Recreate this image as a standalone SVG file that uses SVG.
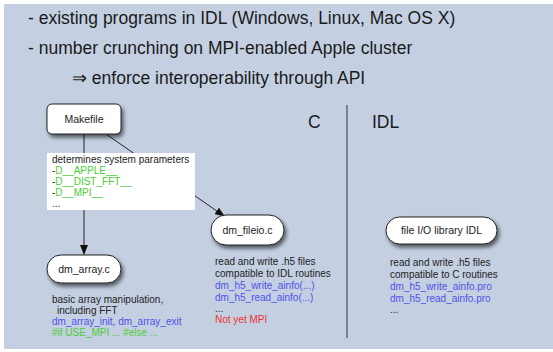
<svg xmlns="http://www.w3.org/2000/svg" width="553" height="352" viewBox="0 0 553 352">
<defs>
<filter id="sh" x="-30%" y="-30%" width="160%" height="180%">
<feGaussianBlur in="SourceAlpha" stdDeviation="2"/>
<feOffset dx="1.5" dy="2.5" result="b"/>
<feComponentTransfer><feFuncA type="linear" slope="0.6"/></feComponentTransfer>
<feMerge><feMergeNode/><feMergeNode in="SourceGraphic"/></feMerge>
</filter>
<marker id="ah" markerWidth="10" markerHeight="8" refX="9" refY="4" orient="auto" markerUnits="userSpaceOnUse">
<path d="M0,0 L10,4 L0,8 z" fill="#111"/>
</marker>
<style>
text{font-family:"Liberation Sans",Arial,sans-serif;fill:#222}
.h{font-size:17.5px;fill:#1a1a1a}
.n{font-size:10.5px;text-anchor:middle}
.s{font-size:10px}
.b{fill:#5050e8}
.g{fill:#4ccc30}
.r{fill:#e83030}
.node{fill:#fff;stroke:#222;stroke-width:1}
.conn{stroke:#222;stroke-width:1;fill:none}
</style>
</defs>
<rect x="0" y="0" width="553" height="352" fill="#fff"/>
<rect x="4" y="4" width="549" height="345" fill="#c4d0e2"/>
<g id="header">
<text class="h" x="28" y="24">- existing programs in IDL (Windows, Linux, Mac OS X)</text>
<text class="h" x="28" y="54">- number crunching on MPI-enabled Apple cluster</text>
<text class="h" x="72" y="84">⇒ enforce interoperability through API</text>
<text class="h" x="308" y="128">C</text>
<text class="h" x="372" y="128">IDL</text>
<line x1="347" y1="105" x2="347" y2="338" stroke="#333" stroke-width="1"/>
</g>
<g id="connectors">
<line class="conn" x1="84" y1="134" x2="84" y2="254" marker-end="url(#ah)"/>
<line class="conn" x1="106" y1="134" x2="224" y2="216" marker-end="url(#ah)"/>
</g>
<g id="makefile">
<rect class="node" x="47" y="104" width="74" height="30" rx="5" filter="url(#sh)"/>
<text class="n" x="84" y="123">Makefile</text>
</g>
<g id="params">
<rect x="47" y="153" width="148" height="57" fill="#fff"/>
<text class="s" x="52" y="163">determines system parameters</text>
<text class="s" x="52" y="174">-<tspan class="g">D__APPLE__</tspan></text>
<text class="s" x="52" y="185">-<tspan class="g">D__DIST_FFT__</tspan></text>
<text class="s" x="52" y="196">-<tspan class="g">D__MPI__</tspan></text>
<text class="s" x="52" y="207">...</text>
</g>
<g id="dm_array">
<rect class="node" x="47" y="255" width="74" height="28" rx="14" filter="url(#sh)"/>
<text class="n" x="84" y="273">dm_array.c</text>
<text class="s" x="52" y="303">basic array manipulation,</text>
<text class="s" x="57" y="314">including FFT</text>
<text class="s b" x="52" y="325">dm_array_init, dm_array_exit</text>
<text class="s g" x="52" y="336">#if USE_MPI ...  #else ...</text>
</g>
<g id="dm_fileio">
<rect class="node" x="211" y="215" width="73" height="30" rx="15" filter="url(#sh)"/>
<text class="n" x="247.5" y="234">dm_fileio.c</text>
<text class="s" x="215" y="265">read and write .h5 files</text>
<text class="s" x="215" y="277">compatible to IDL routines</text>
<text class="s b" x="215" y="289">dm_h5_write_ainfo(...)</text>
<text class="s b" x="215" y="301">dm_h5_read_ainfo(...)</text>
<text class="s" x="215" y="312">...</text>
<text class="s r" x="215" y="323">Not yet MPI</text>
</g>
<g id="idl_lib">
<rect class="node" x="386" y="217" width="111" height="27" rx="13.5" filter="url(#sh)"/>
<text class="n" x="441.5" y="234">file I/O library IDL</text>
<text class="s" x="390" y="266">read and write .h5 files</text>
<text class="s" x="390" y="278">compatible to C routines</text>
<text class="s b" x="390" y="290">dm_h5_write_ainfo.pro</text>
<text class="s b" x="390" y="302">dm_h5_read_ainfo.pro</text>
<text class="s" x="390" y="313">...</text>
</g>
</svg>
